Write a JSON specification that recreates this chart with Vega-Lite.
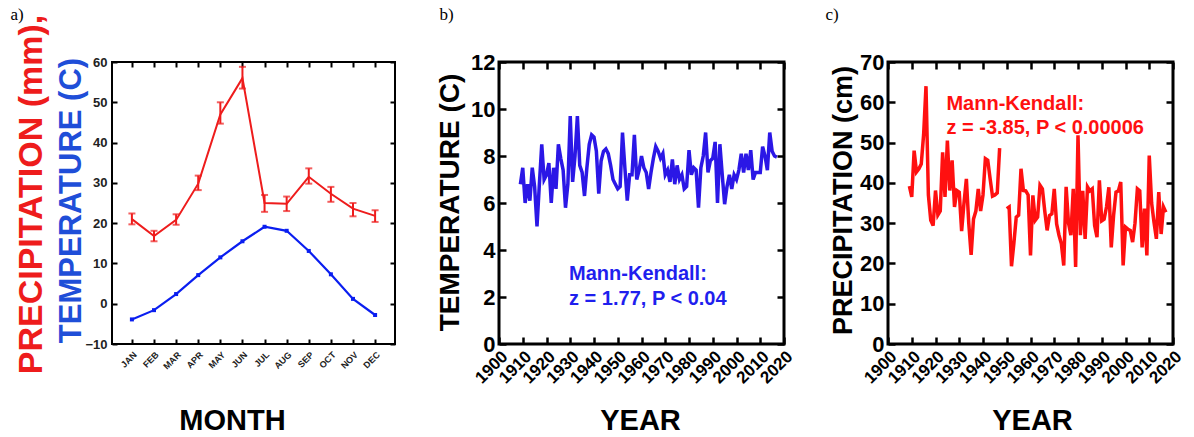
{
  "$schema": "https://vega.github.io/schema/vega-lite/v6.json",
  "background": "white",
  "padding": {"left": 9, "top": 3, "right": 5, "bottom": 0},
  "bounds": "flush",
  "spacing": 104,
  "config": {"font": "Liberation Sans", "axis": {"grid": false, "domain": false}},
  "datasets": {
    "monthly": [
      {"m": "JAN", "p": 21.0, "plo": 19.7, "phi": 22.4, "t": -3.9},
      {"m": "FEB", "p": 16.8, "plo": 15.5, "phi": 18.1, "t": -1.6},
      {"m": "MAR", "p": 20.8, "plo": 19.6, "phi": 22.2, "t": 2.4},
      {"m": "APR", "p": 29.8, "plo": 28.2, "phi": 31.8, "t": 7.1},
      {"m": "MAY", "p": 47.0, "plo": 44.7, "phi": 50.0, "t": 11.5},
      {"m": "JUN", "p": 56.0, "plo": 53.4, "phi": 58.8, "t": 15.5},
      {"m": "JUL", "p": 25.0, "plo": 22.8, "phi": 27.0, "t": 19.1},
      {"m": "AUG", "p": 24.8, "plo": 23.0, "phi": 26.6, "t": 18.1},
      {"m": "SEP", "p": 31.5, "plo": 29.8, "phi": 33.6, "t": 13.1},
      {"m": "OCT", "p": 27.3, "plo": 25.3, "phi": 29.0, "t": 7.3},
      {"m": "NOV", "p": 23.6, "plo": 21.7, "phi": 25.0, "t": 1.2},
      {"m": "DEC", "p": 21.8, "plo": 20.3, "phi": 23.2, "t": -2.8}
    ],
    "temp": [
      {"year": 1909, "t": 6.8}, {"year": 1910, "t": 7.5}, {"year": 1911, "t": 6.0}, {"year": 1912, "t": 6.8}, {"year": 1913, "t": 6.1},
      {"year": 1914, "t": 7.5}, {"year": 1915, "t": 6.7}, {"year": 1916, "t": 5.0}, {"year": 1917, "t": 6.8}, {"year": 1918, "t": 8.5},
      {"year": 1919, "t": 7.0}, {"year": 1920, "t": 7.2}, {"year": 1921, "t": 7.7}, {"year": 1922, "t": 6.0}, {"year": 1923, "t": 7.5},
      {"year": 1924, "t": 6.6}, {"year": 1925, "t": 8.5}, {"year": 1926, "t": 7.9}, {"year": 1927, "t": 7.4}, {"year": 1928, "t": 5.8},
      {"year": 1929, "t": 6.8}, {"year": 1930, "t": 9.7}, {"year": 1931, "t": 6.9}, {"year": 1932, "t": 8.0}, {"year": 1933, "t": 9.7},
      {"year": 1934, "t": 7.6}, {"year": 1935, "t": 7.3}, {"year": 1936, "t": 6.3}, {"year": 1937, "t": 7.5}, {"year": 1938, "t": 8.5},
      {"year": 1939, "t": 8.9}, {"year": 1940, "t": 8.8}, {"year": 1941, "t": 8.2}, {"year": 1942, "t": 6.4}, {"year": 1943, "t": 7.8},
      {"year": 1944, "t": 8.2}, {"year": 1945, "t": 8.3}, {"year": 1946, "t": 8.1}, {"year": 1947, "t": 7.6}, {"year": 1948, "t": 7.0},
      {"year": 1949, "t": 6.8}, {"year": 1950, "t": 6.6}, {"year": 1951, "t": 6.7}, {"year": 1952, "t": 9.0}, {"year": 1953, "t": 7.5},
      {"year": 1954, "t": 6.1}, {"year": 1955, "t": 7.2}, {"year": 1956, "t": 7.2}, {"year": 1957, "t": 8.9}, {"year": 1958, "t": 7.0},
      {"year": 1959, "t": 7.4}, {"year": 1960, "t": 8.0}, {"year": 1961, "t": 7.5}, {"year": 1962, "t": 7.3}, {"year": 1963, "t": 6.6},
      {"year": 1964, "t": 7.3}, {"year": 1965, "t": 7.9}, {"year": 1966, "t": 8.4}, {"year": 1967, "t": 8.2}, {"year": 1968, "t": 7.9},
      {"year": 1969, "t": 8.1}, {"year": 1970, "t": 7.2}, {"year": 1971, "t": 7.4}, {"year": 1972, "t": 6.9}, {"year": 1973, "t": 7.85},
      {"year": 1974, "t": 6.8}, {"year": 1975, "t": 7.6}, {"year": 1976, "t": 7.0}, {"year": 1977, "t": 7.2}, {"year": 1978, "t": 6.6},
      {"year": 1979, "t": 6.7}, {"year": 1980, "t": 8.25}, {"year": 1981, "t": 7.2}, {"year": 1982, "t": 7.5}, {"year": 1983, "t": 7.4},
      {"year": 1984, "t": 5.8}, {"year": 1985, "t": 7.5}, {"year": 1986, "t": 8.0}, {"year": 1987, "t": 9.0}, {"year": 1988, "t": 7.3},
      {"year": 1989, "t": 7.8}, {"year": 1990, "t": 7.9}, {"year": 1991, "t": 8.6}, {"year": 1992, "t": 6.0}, {"year": 1993, "t": 8.5},
      {"year": 1994, "t": 7.2}, {"year": 1995, "t": 5.95}, {"year": 1996, "t": 6.7}, {"year": 1997, "t": 7.2}, {"year": 1998, "t": 6.6},
      {"year": 1999, "t": 7.2}, {"year": 2000, "t": 7.0}, {"year": 2001, "t": 7.4}, {"year": 2002, "t": 8.1}, {"year": 2003, "t": 7.3},
      {"year": 2004, "t": 8.1}, {"year": 2005, "t": 7.4}, {"year": 2006, "t": 8.25}, {"year": 2007, "t": 7.0}, {"year": 2008, "t": 7.3},
      {"year": 2009, "t": 7.3}, {"year": 2010, "t": 7.3}, {"year": 2011, "t": 8.4}, {"year": 2012, "t": 8.0}, {"year": 2013, "t": 7.4},
      {"year": 2014, "t": 9.0}, {"year": 2015, "t": 8.2}, {"year": 2016, "t": 8.0}, {"year": 2017, "t": 7.95}
    ],
    "prec": [
      {"year": 1909, "p": 39.2, "seg": "A"}, {"year": 1910, "p": 36.5, "seg": "A"}, {"year": 1911, "p": 48.0, "seg": "A"}, {"year": 1912, "p": 42.7, "seg": "A"},
      {"year": 1913, "p": 43.5, "seg": "A"}, {"year": 1914, "p": 44.7, "seg": "A"}, {"year": 1915, "p": 52.0, "seg": "A"}, {"year": 1916, "p": 64.0, "seg": "A"},
      {"year": 1917, "p": 37.0, "seg": "A"}, {"year": 1918, "p": 30.7, "seg": "A"}, {"year": 1919, "p": 29.4, "seg": "A"}, {"year": 1920, "p": 38.1, "seg": "A"},
      {"year": 1921, "p": 32.0, "seg": "A"}, {"year": 1922, "p": 33.0, "seg": "A"}, {"year": 1923, "p": 47.6, "seg": "A"}, {"year": 1924, "p": 36.5, "seg": "A"},
      {"year": 1925, "p": 50.5, "seg": "A"}, {"year": 1926, "p": 38.1, "seg": "A"}, {"year": 1927, "p": 45.6, "seg": "A"}, {"year": 1928, "p": 34.0, "seg": "A"},
      {"year": 1929, "p": 38.1, "seg": "A"}, {"year": 1930, "p": 37.7, "seg": "A"}, {"year": 1931, "p": 28.0, "seg": "A"}, {"year": 1932, "p": 35.0, "seg": "A"},
      {"year": 1933, "p": 41.0, "seg": "A"}, {"year": 1934, "p": 30.0, "seg": "A"}, {"year": 1935, "p": 22.1, "seg": "A"}, {"year": 1936, "p": 31.0, "seg": "A"},
      {"year": 1937, "p": 33.0, "seg": "A"}, {"year": 1938, "p": 38.5, "seg": "A"}, {"year": 1939, "p": 33.0, "seg": "A"}, {"year": 1940, "p": 37.0, "seg": "A"},
      {"year": 1941, "p": 46.0, "seg": "A"}, {"year": 1942, "p": 45.6, "seg": "A"}, {"year": 1943, "p": 41.0, "seg": "A"}, {"year": 1944, "p": 36.7, "seg": "A"},
      {"year": 1945, "p": 37.0, "seg": "A"}, {"year": 1946, "p": 37.5, "seg": "A"}, {"year": 1947, "p": 48.6, "seg": "A"},
      {"year": 1950, "p": 33.6, "seg": "B"}, {"year": 1951, "p": 34.0, "seg": "B"}, {"year": 1952, "p": 19.3, "seg": "B"}, {"year": 1953, "p": 25.0, "seg": "B"},
      {"year": 1954, "p": 31.5, "seg": "B"}, {"year": 1955, "p": 32.0, "seg": "B"}, {"year": 1956, "p": 43.5, "seg": "B"}, {"year": 1957, "p": 38.1, "seg": "B"},
      {"year": 1958, "p": 38.0, "seg": "B"}, {"year": 1959, "p": 37.0, "seg": "B"}, {"year": 1960, "p": 22.0, "seg": "B"}, {"year": 1961, "p": 36.9, "seg": "B"},
      {"year": 1962, "p": 30.7, "seg": "B"}, {"year": 1963, "p": 31.5, "seg": "B"}, {"year": 1964, "p": 39.4, "seg": "B"}, {"year": 1965, "p": 38.5, "seg": "B"},
      {"year": 1966, "p": 33.0, "seg": "B"}, {"year": 1967, "p": 28.2, "seg": "B"}, {"year": 1968, "p": 31.9, "seg": "B"}, {"year": 1969, "p": 32.3, "seg": "B"},
      {"year": 1970, "p": 38.5, "seg": "B"}, {"year": 1971, "p": 29.8, "seg": "B"}, {"year": 1972, "p": 27.0, "seg": "B"}, {"year": 1973, "p": 24.9, "seg": "B"},
      {"year": 1974, "p": 19.5, "seg": "B"}, {"year": 1975, "p": 39.0, "seg": "B"}, {"year": 1976, "p": 30.0, "seg": "B"}, {"year": 1977, "p": 27.0, "seg": "B"},
      {"year": 1978, "p": 38.5, "seg": "B"}, {"year": 1979, "p": 19.1, "seg": "B"}, {"year": 1980, "p": 51.8, "seg": "B"}, {"year": 1981, "p": 27.0, "seg": "B"},
      {"year": 1982, "p": 38.0, "seg": "B"}, {"year": 1983, "p": 26.1, "seg": "B"}, {"year": 1984, "p": 39.0, "seg": "B"}, {"year": 1985, "p": 38.0, "seg": "B"},
      {"year": 1986, "p": 38.5, "seg": "B"}, {"year": 1987, "p": 29.4, "seg": "B"}, {"year": 1988, "p": 26.5, "seg": "B"}, {"year": 1989, "p": 40.6, "seg": "B"},
      {"year": 1990, "p": 30.6, "seg": "B"}, {"year": 1991, "p": 31.0, "seg": "B"}, {"year": 1992, "p": 34.0, "seg": "B"}, {"year": 1993, "p": 38.9, "seg": "B"},
      {"year": 1994, "p": 24.0, "seg": "B"}, {"year": 1995, "p": 32.0, "seg": "B"}, {"year": 1996, "p": 37.7, "seg": "B"}, {"year": 1997, "p": 38.0, "seg": "B"},
      {"year": 1998, "p": 40.2, "seg": "B"}, {"year": 1999, "p": 19.5, "seg": "B"}, {"year": 2000, "p": 29.0, "seg": "B"}, {"year": 2001, "p": 28.5, "seg": "B"},
      {"year": 2002, "p": 28.2, "seg": "B"}, {"year": 2003, "p": 25.3, "seg": "B"}, {"year": 2004, "p": 30.0, "seg": "B"}, {"year": 2005, "p": 38.5, "seg": "B"},
      {"year": 2006, "p": 38.0, "seg": "B"}, {"year": 2007, "p": 24.0, "seg": "B"}, {"year": 2008, "p": 33.6, "seg": "B"}, {"year": 2009, "p": 22.0, "seg": "B"},
      {"year": 2010, "p": 46.8, "seg": "B"}, {"year": 2011, "p": 35.0, "seg": "B"}, {"year": 2012, "p": 30.2, "seg": "B"}, {"year": 2013, "p": 26.1, "seg": "B"},
      {"year": 2014, "p": 37.7, "seg": "B"}, {"year": 2015, "p": 27.3, "seg": "B"}, {"year": 2016, "p": 34.0, "seg": "B"}, {"year": 2017, "p": 32.7, "seg": "B"}
    ]
  },
  "hconcat": [
    {
      "width": 283,
      "height": 282,
      "view": {"stroke": "black", "strokeWidth": 2},
      "data": {"name": "monthly"},
      "layer": [
        {
          "layer": [
            {
              "mark": {"type": "errorbar", "ticks": {"size": 7, "thickness": 2, "color": "#ee1c1c"}, "rule": {"strokeWidth": 2, "color": "#ee1c1c"}},
              "encoding": {
                "x": {"field": "m", "type": "ordinal", "sort": null, "scale": {"type": "point", "padding": 0.9}, "axis": {"orient": "bottom", "title": "MONTH", "titleFont": "Liberation Sans", "titleFontSize": 29, "titleFontWeight": "bold", "titleColor": "black", "titleX": 120, "titleY": 76, "titleAlign": "center", "titleBaseline": "middle", "labelAngle": -45, "labelFont": "Liberation Sans", "labelFontSize": 9, "labelFontWeight": "bold", "labelColor": "#222", "labelPadding": 11, "tickSize": -5, "tickWidth": 2, "tickColor": "black"}},
                "y": {"field": "plo", "type": "quantitative", "scale": {"domain": [-10, 60], "nice": false, "zero": false}, "axis": {"orient": "left", "values": [-10, 0, 10, 20, 30, 40, 50, 60], "title": "TEMPERATURE (C)", "titleColor": "#1f4ed8", "titleFont": "Liberation Sans", "titleFontSize": 31, "titleFontWeight": "bold", "titleX": -41, "titleY": 138, "titleAlign": "center", "titleBaseline": "middle", "titleAngle": -90, "labelFont": "Liberation Sans", "labelFontSize": 13, "labelFontWeight": "bold", "labelColor": "#222", "labelPadding": 10, "tickSize": -5, "tickWidth": 2, "tickColor": "black"}},
                "y2": {"field": "phi"}
              }
            },
            {
              "mark": {"type": "line", "color": "#ee1c1c", "strokeWidth": 2},
              "encoding": {
                "x": {"field": "m", "type": "ordinal", "sort": null},
                "y": {"field": "p", "type": "quantitative"}
              }
            },
            {
              "mark": {"type": "line", "color": "#0a1ef0", "strokeWidth": 2.2, "point": {"shape": "square", "size": 16, "filled": true, "color": "#0a1ef0"}},
              "encoding": {
                "x": {"field": "m", "type": "ordinal", "sort": null},
                "y": {"field": "t", "type": "quantitative"}
              }
            }
          ]
        },
        {
          "mark": {"type": "point", "opacity": 0},
          "encoding": {
            "x": {"field": "m", "type": "ordinal", "sort": null, "scale": {"type": "point", "padding": 0.9}, "axis": {"orient": "top", "labels": false, "title": "a)", "titleX": -102, "titleY": -48, "titleAlign": "left", "titleBaseline": "middle", "titleAngle": 0, "titleFont": "Liberation Serif", "titleFontSize": 17, "titleFontWeight": "normal", "titleColor": "black", "tickSize": -5, "tickWidth": 2, "tickColor": "black"}},
            "y": {"field": "t", "type": "quantitative", "scale": {"domain": [-10, 60], "nice": false, "zero": false}, "axis": {"orient": "right", "values": [-10, 0, 10, 20, 30, 40, 50, 60], "labels": false, "title": null, "tickSize": -5, "tickWidth": 2, "tickColor": "black"}}
          }
        },
        {
          "mark": {"type": "point", "opacity": 0},
          "encoding": {
            "y": {"field": "t", "type": "quantitative", "scale": {"domain": [-10, 60], "nice": false, "zero": false}, "axis": {"orient": "left", "labels": false, "ticks": false, "title": "PRECIPITATION (mm),", "titleColor": "#ee1c1c", "titleFont": "Liberation Sans", "titleFontSize": 34, "titleFontWeight": "bold", "titleX": -81, "titleY": 132, "titleAlign": "center", "titleBaseline": "middle", "titleAngle": -90}}
          }
        }
      ],
      "resolve": {"scale": {"x": "independent", "y": "independent"}}
    },
    {
      "width": 285,
      "height": 282,
      "view": {"stroke": "black", "strokeWidth": 3},
      "layer": [
        {
          "data": {"name": "temp"},
          "mark": {"type": "line", "color": "#2b17e6", "strokeWidth": 3.5},
          "encoding": {
            "x": {"field": "year", "type": "quantitative", "scale": {"domain": [1900, 2020], "nice": false, "zero": false}, "axis": {"orient": "bottom", "values": [1900, 1910, 1920, 1930, 1940, 1950, 1960, 1970, 1980, 1990, 2000, 2010, 2020], "format": "d", "labelAngle": -45, "labelFlush": false, "labelOverlap": false, "labelBound": false, "labelFont": "Liberation Sans", "labelFontSize": 17, "labelFontWeight": "bold", "labelColor": "black", "labelPadding": 11, "tickSize": -7, "tickWidth": 2.5, "tickColor": "black", "title": "YEAR", "titleFont": "Liberation Sans", "titleFontSize": 29, "titleFontWeight": "bold", "titleColor": "black", "titleX": 141, "titleY": 76, "titleAlign": "center", "titleBaseline": "middle"}},
            "y": {"field": "t", "type": "quantitative", "scale": {"domain": [0, 12], "nice": false, "zero": false}, "axis": {"orient": "left", "values": [0, 2, 4, 6, 8, 10, 12], "labelFlush": false, "labelFont": "Liberation Sans", "labelFontSize": 22, "labelFontWeight": "bold", "labelColor": "black", "labelPadding": 11, "tickSize": -7, "tickWidth": 2.5, "tickColor": "black", "title": "TEMPERATURE (C)", "titleFont": "Liberation Sans", "titleFontSize": 28, "titleFontWeight": "bold", "titleColor": "black", "titleX": -49, "titleY": 140, "titleAlign": "center", "titleBaseline": "middle", "titleAngle": -90}}
          }
        },
        {
          "data": {"name": "temp"},
          "mark": {"type": "point", "opacity": 0},
          "encoding": {
            "x": {"field": "year", "type": "quantitative", "scale": {"domain": [1900, 2020], "nice": false, "zero": false}, "axis": {"orient": "top", "values": [1900, 1910, 1920, 1930, 1940, 1950, 1960, 1970, 1980, 1990, 2000, 2010, 2020], "labels": false, "title": "b)", "titleX": -60, "titleY": -48, "titleAlign": "left", "titleBaseline": "middle", "titleAngle": 0, "titleFont": "Liberation Serif", "titleFontSize": 17, "titleFontWeight": "normal", "titleColor": "black", "tickSize": -7, "tickWidth": 2.5, "tickColor": "black"}},
            "y": {"field": "t", "type": "quantitative", "scale": {"domain": [0, 12], "nice": false, "zero": false}, "axis": {"orient": "right", "values": [0, 2, 4, 6, 8, 10, 12], "labels": false, "title": null, "tickSize": -7, "tickWidth": 2.5, "tickColor": "black"}}
          }
        },
        {
          "data": {"values": [{}]},
          "mark": {"type": "text", "text": ["Mann-Kendall:", "z = 1.77, P < 0.04"], "align": "left", "baseline": "middle", "lineHeight": 25, "font": "Liberation Sans", "fontSize": 20, "fontWeight": "bold", "color": "#1f1fee"},
          "encoding": {
            "x": {"datum": 1929.5, "type": "quantitative", "scale": {"domain": [1900, 2020], "nice": false, "zero": false}, "axis": null},
            "y": {"datum": 2.97, "type": "quantitative", "scale": {"domain": [0, 12], "nice": false, "zero": false}, "axis": null}
          }
        }
      ],
      "resolve": {"scale": {"x": "independent", "y": "independent"}}
    },
    {
      "width": 285,
      "height": 282,
      "view": {"stroke": "black", "strokeWidth": 3},
      "layer": [
        {
          "data": {"name": "prec"},
          "mark": {"type": "line", "color": "#ff1010", "strokeWidth": 3.5},
          "encoding": {
            "x": {"field": "year", "type": "quantitative", "scale": {"domain": [1900, 2020], "nice": false, "zero": false}, "axis": {"orient": "bottom", "values": [1900, 1910, 1920, 1930, 1940, 1950, 1960, 1970, 1980, 1990, 2000, 2010, 2020], "format": "d", "labelAngle": -45, "labelFlush": false, "labelOverlap": false, "labelBound": false, "labelFont": "Liberation Sans", "labelFontSize": 17, "labelFontWeight": "bold", "labelColor": "black", "labelPadding": 11, "tickSize": -7, "tickWidth": 2.5, "tickColor": "black", "title": "YEAR", "titleFont": "Liberation Sans", "titleFontSize": 29, "titleFontWeight": "bold", "titleColor": "black", "titleX": 144, "titleY": 76, "titleAlign": "center", "titleBaseline": "middle"}},
            "y": {"field": "p", "type": "quantitative", "scale": {"domain": [0, 70], "nice": false, "zero": false}, "axis": {"orient": "left", "values": [0, 10, 20, 30, 40, 50, 60, 70], "labelFlush": false, "labelFont": "Liberation Sans", "labelFontSize": 22, "labelFontWeight": "bold", "labelColor": "black", "labelPadding": 11, "tickSize": -7, "tickWidth": 2.5, "tickColor": "black", "title": "PRECIPITATION (cm)", "titleFont": "Liberation Sans", "titleFontSize": 27, "titleFontWeight": "bold", "titleColor": "black", "titleX": -45, "titleY": 138, "titleAlign": "center", "titleBaseline": "middle", "titleAngle": -90}},
            "detail": {"field": "seg", "type": "nominal"}
          }
        },
        {
          "data": {"name": "prec"},
          "mark": {"type": "point", "opacity": 0},
          "encoding": {
            "x": {"field": "year", "type": "quantitative", "scale": {"domain": [1900, 2020], "nice": false, "zero": false}, "axis": {"orient": "top", "values": [1900, 1910, 1920, 1930, 1940, 1950, 1960, 1970, 1980, 1990, 2000, 2010, 2020], "labels": false, "title": "c)", "titleX": -63, "titleY": -48, "titleAlign": "left", "titleBaseline": "middle", "titleAngle": 0, "titleFont": "Liberation Serif", "titleFontSize": 17, "titleFontWeight": "normal", "titleColor": "black", "tickSize": -7, "tickWidth": 2.5, "tickColor": "black"}},
            "y": {"field": "p", "type": "quantitative", "scale": {"domain": [0, 70], "nice": false, "zero": false}, "axis": {"orient": "right", "values": [0, 10, 20, 30, 40, 50, 60, 70], "labels": false, "title": null, "tickSize": -7, "tickWidth": 2.5, "tickColor": "black"}}
          }
        },
        {
          "data": {"values": [{}]},
          "mark": {"type": "text", "text": ["Mann-Kendall:", "z = -3.85, P < 0.00006"], "align": "left", "baseline": "middle", "lineHeight": 24, "font": "Liberation Sans", "fontSize": 20, "fontWeight": "bold", "color": "#ff1010"},
          "encoding": {
            "x": {"datum": 1924.6, "type": "quantitative", "scale": {"domain": [1900, 2020], "nice": false, "zero": false}, "axis": null},
            "y": {"datum": 59.6, "type": "quantitative", "scale": {"domain": [0, 70], "nice": false, "zero": false}, "axis": null}
          }
        }
      ],
      "resolve": {"scale": {"x": "independent", "y": "independent"}}
    }
  ]
}
